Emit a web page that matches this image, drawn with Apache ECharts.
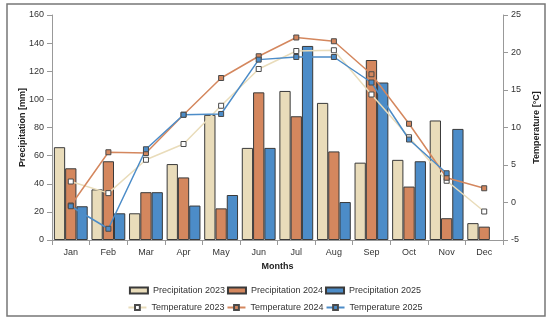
<!DOCTYPE html>
<html><head><meta charset="utf-8">
<script src="https://cdn.jsdelivr.net/npm/echarts@6/dist/echarts.min.js"></script>
<style>html,body{margin:0;padding:0;background:#fff}#c{width:550px;height:321px}</style>
</head><body><div id="c"></div>
<script>
const months = ['Jan','Feb','Mar','Apr','May','Jun','Jul','Aug','Sep','Oct','Nov','Dec'];
const precip2023 = [66, 36, 19, 54, 89, 65.5, 106, 97.5, 55, 57, 85, 12];
const precip2024 = [51, 56, 34, 44.5, 22.5, 105, 88, 63, 128, 38, 15.5, 9.5];
const precip2025 = [24, 19, 34, 24.5, 32, 65.5, 138, 27, 112, 56, 79, null];
const temp2023 = [2.8, 1.25, 5.7, 7.8, 12.9, 17.8, 20.2, 20.3, 14.4, 8.7, 2.9, -1.2];
const temp2024 = [-0.4, 6.7, 6.6, 11.7, 16.6, 19.5, 22.0, 21.5, 17.1, 10.5, 3.3, 1.9];
const temp2025 = [-0.5, -3.5, 7.1, 11.7, 11.8, 19.05, 19.4, 19.4, 16.0, 8.4, 3.9, null];

const cBeige = '#E9DCBA', cOrange = '#D4875E', cBlue = '#4C8CC8';
const font = 'Liberation Sans, Arial, sans-serif';
const chart = echarts.init(document.getElementById('c'), null, {renderer:'canvas'});
function bar(name, data, color){
  return {name, type:'bar', data, yAxisIndex:0, barGap:'0%', barCategoryGap:'10%',
    itemStyle:{color, borderColor:'#3a3a3a', borderWidth:1}};
}
function line(name, data, color, fill){
  return {name, type:'line', data, yAxisIndex:1, symbol:'rect', symbolSize:5,
    lineStyle:{color, width:1.5}, itemStyle:{color:fill, borderColor:'#4a4a4a', borderWidth:1},
    z:5};
}
chart.setOption({
  animation:false,
  textStyle:{fontFamily:font},
  graphic:[{type:'rect', shape:{x:7, y:4, width:538, height:312}, style:{fill:'none', stroke:'#777', lineWidth:1.5}, silent:true}],
  grid:{left:52, right:47, top:15, bottom:81},
  legend:[
    {data:['Precipitation 2023','Precipitation 2024','Precipitation 2025'], top:281, left:'center',
     icon:'rect', itemWidth:18, itemHeight:6, itemGap:2,
     textStyle:{fontSize:9, color:'#333', fontFamily:font}},
    {data:['Temperature 2023','Temperature 2024','Temperature 2025'], top:298, left:'center',
     itemWidth:18, itemHeight:6, itemGap:2,
     textStyle:{fontSize:9, color:'#333', fontFamily:font}}
  ],
  xAxis:{type:'category', data:months, name:'Months', nameLocation:'middle', nameGap:22,
    nameMoveOverlap:false,
    nameTextStyle:{fontWeight:'bold', fontSize:9, color:'#222'},
    axisLine:{lineStyle:{color:'#999'}}, axisTick:{show:true, alignWithLabel:false, lineStyle:{color:'#999'}},
    axisLabel:{fontSize:9, color:'#333', margin:8}},
  yAxis:[
    {type:'value', min:0, max:160, interval:20, name:'Precipitation [mm]', nameLocation:'middle', nameGap:25,
     nameMoveOverlap:false,
     nameTextStyle:{fontWeight:'bold', fontSize:9, color:'#222'},
     axisLine:{show:true, lineStyle:{color:'#999'}}, axisTick:{show:true, lineStyle:{color:'#999'}},
     splitLine:{show:false}, axisLabel:{fontSize:9, color:'#333'}},
    {type:'value', min:-5, max:25, interval:5, name:'Temperature [°C]', nameLocation:'middle', nameGap:29,
     nameRotate:90, nameMoveOverlap:false,
     nameTextStyle:{fontWeight:'bold', fontSize:9, color:'#222'},
     axisLine:{show:true, lineStyle:{color:'#999'}}, axisTick:{show:true, lineStyle:{color:'#999'}},
     splitLine:{show:false}, axisLabel:{fontSize:9, color:'#333'}}
  ],
  series:[
    bar('Precipitation 2023', precip2023, cBeige),
    bar('Precipitation 2024', precip2024, cOrange),
    bar('Precipitation 2025', precip2025, cBlue),
    line('Temperature 2023', temp2023, cBeige, '#ffffff'),
    line('Temperature 2024', temp2024, cOrange, cOrange),
    line('Temperature 2025', temp2025, cBlue, cBlue)
  ]
});
</script></body></html>
